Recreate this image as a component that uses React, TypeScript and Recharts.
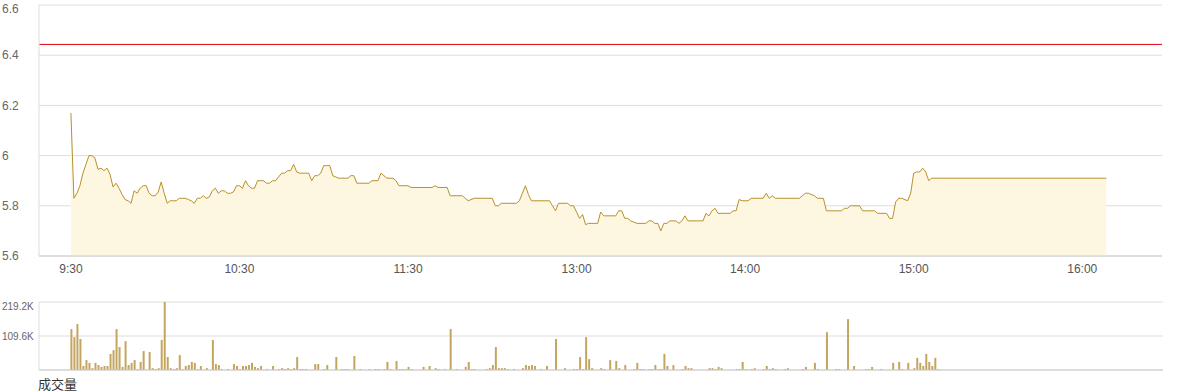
import {
  ComposedChart, Area, Bar, XAxis, YAxis, CartesianGrid, ReferenceLine,
} from 'recharts'

// minute slots: 0 = 9:30, 56 slots between hour labels
const timeTicks = [0, 56, 112, 168, 224, 280, 336]
const timeLabels = ['9:30', '10:30', '11:30', '13:00', '14:00', '15:00', '16:00']

const priceTicks = [5.6, 5.8, 6, 6.2, 6.4, 6.6]
const prevClose = 6.443

// [slot, price] vertices of the price line
const pricePoints: [number, number][] = [
  [0, 6.17], [1, 5.83], [2, 5.85], [3, 5.88], [4, 5.93], [5, 5.965], [6, 6.0], [7, 6.0],
  [8, 5.99], [9, 5.945], [10, 5.95], [11, 5.94], [12, 5.95], [13, 5.925], [14, 5.875],
  [15, 5.89], [16, 5.87], [17, 5.845], [18, 5.825], [19, 5.82], [20, 5.81], [21, 5.86],
  [22, 5.85], [23, 5.87], [24, 5.88], [25, 5.88], [26, 5.85], [27, 5.84], [28, 5.84],
  [29, 5.855], [30, 5.895], [31, 5.85], [32, 5.81], [33, 5.82], [34, 5.82], [35, 5.82],
  [36, 5.83], [37, 5.83], [38, 5.83], [39, 5.825], [40, 5.82], [41, 5.81], [42, 5.83],
  [43, 5.83], [44, 5.84], [45, 5.83], [46, 5.835], [47, 5.86], [48, 5.87], [49, 5.85],
  [50, 5.86], [51, 5.86], [52, 5.85], [53, 5.85], [54, 5.855], [55, 5.88], [56, 5.88],
  [57, 5.87], [58, 5.9], [59, 5.88], [60, 5.87], [61, 5.87], [62, 5.9], [63, 5.9],
  [64, 5.9], [65, 5.89], [66, 5.89], [67, 5.9], [68, 5.9], [69, 5.915], [70, 5.93],
  [71, 5.93], [72, 5.94], [73, 5.94], [74, 5.965], [75, 5.935], [76, 5.93], [77, 5.93],
  [78, 5.93], [79, 5.93], [80, 5.9], [81, 5.92], [82, 5.92], [83, 5.93], [84, 5.96],
  [85, 5.96], [86, 5.96], [87, 5.92], [88, 5.915], [89, 5.91], [90, 5.91], [91, 5.91],
  [92, 5.91], [93, 5.92], [94, 5.92], [95, 5.89], [96, 5.89], [99, 5.89], [100, 5.9],
  [102, 5.9], [103, 5.93], [104, 5.92], [105, 5.91], [107, 5.91], [108, 5.9], [109, 5.88],
  [112, 5.88], [113, 5.873], [120, 5.873], [121, 5.88], [122, 5.873], [125, 5.873],
  [126, 5.84], [130, 5.84], [131, 5.83], [132, 5.82], [134, 5.83], [140, 5.83], [141, 5.8],
  [142, 5.8], [143, 5.81], [148, 5.81], [149, 5.82], [150, 5.85], [151, 5.88], [152, 5.845],
  [153, 5.82], [159, 5.82], [160, 5.8], [161, 5.78], [162, 5.81], [165, 5.81], [166, 5.8],
  [167, 5.8], [168, 5.775], [169, 5.75], [170, 5.765], [171, 5.725], [172, 5.73], [175, 5.73],
  [176, 5.775], [177, 5.76], [181, 5.76], [182, 5.78], [183, 5.78], [184, 5.75], [185, 5.75],
  [186, 5.74], [188, 5.73], [191, 5.73], [192, 5.74], [193, 5.74], [194, 5.73], [195, 5.73],
  [196, 5.7], [197, 5.73], [198, 5.73], [199, 5.74], [201, 5.74], [202, 5.73], [203, 5.74],
  [204, 5.76], [205, 5.74], [210, 5.74], [211, 5.77], [212, 5.76], [213, 5.78], [214, 5.79],
  [215, 5.77], [219, 5.77], [220, 5.78], [221, 5.78], [222, 5.825], [223, 5.82], [225, 5.82],
  [226, 5.83], [230, 5.83], [231, 5.85], [232, 5.83], [233, 5.84], [234, 5.83], [242, 5.83],
  [243, 5.84], [244, 5.85], [245, 5.85], [247, 5.84], [248, 5.83], [250, 5.83], [251, 5.78],
  [256, 5.78], [257, 5.79], [258, 5.79], [259, 5.8], [262, 5.8], [263, 5.78], [267, 5.78],
  [268, 5.77], [271, 5.77], [272, 5.75], [273, 5.75], [274, 5.815], [275, 5.83], [276, 5.83],
  [278, 5.82], [279, 5.85], [280, 5.93], [281, 5.935], [282, 5.935], [283, 5.95], [284, 5.935],
  [285, 5.9], [286, 5.91], [344, 5.91],
]

// volume per minute slot, in thousands
const volumes = [
  132, 106, 148, 100, 13, 32, 23, 6, 23, 16, 10, 13, 13, 52, 64, 132, 74, 10, 93, 16,
  23, 32, 3, 26, 61, 0, 58, 6, 3, 6, 97, 219.2, 42, 6, 3, 6, 48, 3, 13, 16,
  26, 23, 3, 13, 0, 6, 0, 97, 19, 16, 3, 0, 3, 0, 19, 13, 3, 13, 13, 16,
  23, 10, 6, 13, 0, 3, 0, 13, 0, 3, 6, 3, 6, 3, 6, 42, 3, 3, 3, 0,
  0, 19, 19, 0, 3, 16, 0, 0, 42, 0, 3, 3, 3, 0, 45, 0, 3, 0, 0, 3,
  0, 3, 3, 0, 3, 26, 3, 0, 29, 3, 3, 3, 10, 3, 0, 0, 0, 10, 0, 13,
  0, 6, 3, 0, 3, 0, 132, 0, 3, 0, 0, 10, 26, 3, 3, 0, 0, 0, 3, 6,
  16, 74, 6, 6, 6, 3, 0, 3, 0, 0, 6, 16, 13, 16, 13, 0, 3, 0, 13, 0,
  0, 100, 0, 0, 6, 0, 0, 3, 3, 42, 3, 106, 35, 6, 0, 0, 6, 3, 0, 32,
  0, 29, 6, 0, 16, 0, 0, 3, 23, 3, 3, 0, 3, 3, 16, 3, 3, 52, 13, 0,
  16, 0, 0, 3, 13, 6, 6, 0, 0, 0, 0, 0, 6, 6, 3, 10, 6, 0, 0, 0,
  0, 3, 3, 26, 3, 0, 3, 6, 0, 0, 3, 13, 3, 6, 3, 0, 0, 3, 6, 0,
  0, 0, 0, 3, 10, 0, 0, 23, 3, 0, 0, 122, 0, 0, 3, 3, 0, 0, 164, 0,
  13, 0, 0, 0, 3, 3, 10, 0, 0, 3, 0, 0, 0, 23, 0, 26, 3, 0, 23, 0,
  6, 39, 23, 13, 52, 26, 13, 39, 3,
]
const volumeTicks = [0, 109.6, 219.2]

const priceData = pricePoints.map(([t, p]) => ({ t, p }))
const volumeData = volumes.map((v, t) => ({ t, v }))

const PriceTick = ({ y, payload }: any) => (
  <text x={2} y={y} dy="0.355em" textAnchor="start" fontSize={12} fill="#666">
    {payload.value}
  </text>
)

const VolTick = ({ y, payload }: any) =>
  payload.value > 0 ? (
    <text x={2} y={y} dy="0.355em" textAnchor="start" fontSize={10} fill="#666">
      {payload.value}K
    </text>
  ) : null

export default function App() {
  return (
    <div
      style={{
        position: 'absolute', left: 0, top: 0, width: 1180, height: 392,
        background: '#fff', fontFamily: '"Liberation Sans", Arial, sans-serif', overflow: 'hidden',
      }}
    >
      <ComposedChart width={1180} height={285} data={priceData} margin={{ top: 5, right: 18, bottom: 5, left: 0 }}>
        <CartesianGrid vertical={false} stroke="#ddd" />
        <XAxis
          type="number" dataKey="t" domain={[-10.6, 362.5]} ticks={timeTicks} interval={0}
          tickFormatter={(v) => timeLabels[timeTicks.indexOf(v)]}
          tick={{ fontSize: 12, fill: '#555' }} tickLine={false} axisLine={{ stroke: '#ccc' }}
          height={24} allowDataOverflow
        />
        <YAxis domain={[5.6, 6.6]} ticks={priceTicks} width={39} tick={<PriceTick />} tickLine={false} axisLine={{ stroke: '#ddd' }} />
        <YAxis yAxisId="r" orientation="right" width={0} tick={false} tickLine={false} axisLine={{ stroke: '#ccc' }} />
        <Area
          type="linear" dataKey="p" stroke="#b8912c" strokeWidth={1} fill="#fdf6e0" fillOpacity={1}
          dot={false} activeDot={false} isAnimationActive={false}
        />
        <ReferenceLine y={prevClose} stroke="#e3000f" strokeWidth={1} />
      </ComposedChart>

      <div style={{ position: 'absolute', left: 0, top: 297 }}>
        <ComposedChart width={1180} height={74} data={volumeData} margin={{ top: 5, right: 17, bottom: 0, left: 0 }}>
          <CartesianGrid vertical={false} stroke="#ddd" />
          <XAxis type="number" dataKey="t" domain={[-10.6, 362.8]} height={1} tick={false} tickLine={false} axisLine={{ stroke: '#ccc' }} allowDataOverflow />
          <YAxis domain={[0, 219.2]} ticks={volumeTicks} width={39} tick={<VolTick />} tickLine={false} axisLine={{ stroke: '#ddd' }} />
          <YAxis yAxisId="r" orientation="right" width={0} tick={false} tickLine={false} axisLine={{ stroke: '#ccc' }} />
          <Bar dataKey="v" fill="#c4a560" barSize={2} isAnimationActive={false} />
        </ComposedChart>
      </div>

      <div
        style={{
          position: 'absolute', left: 38, top: 376, fontSize: 13, lineHeight: '16px', color: '#333',
          fontFamily: '"Noto Sans CJK SC", sans-serif',
        }}
      >
        成交量
      </div>
    </div>
  )
}
